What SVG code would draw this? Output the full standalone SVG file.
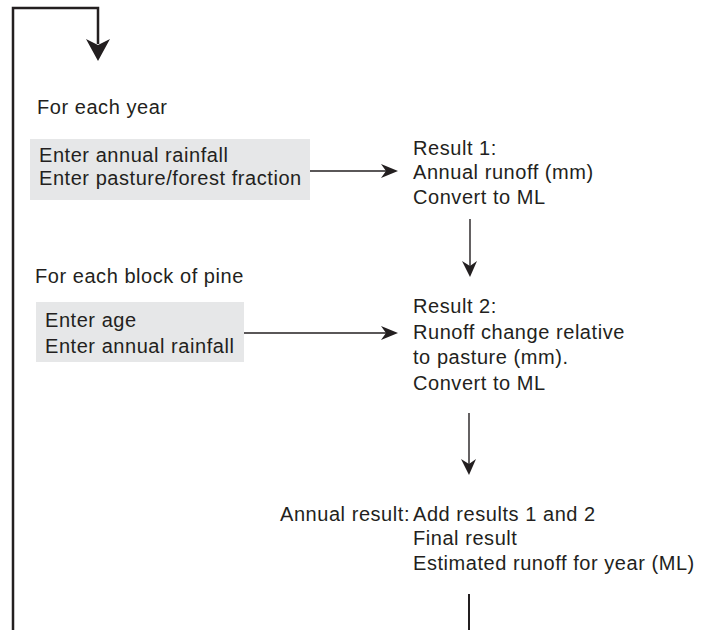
<svg xmlns="http://www.w3.org/2000/svg" width="713" height="630" viewBox="0 0 713 630">
<style>
text{font-family:"Liberation Sans",Arial,sans-serif;font-size:20px;letter-spacing:0.55px;fill:#231f20}
.box{fill:#e6e7e8}
.ln{stroke:#231f20;stroke-width:1.4;fill:none}
.thick{stroke:#231f20;stroke-width:2.5;fill:none}
.head{fill:#231f20}
</style>
<g id="connectors">
<path class="thick" d="M13,630 V8 H98 V44"/>
<path class="head" d="M98,61 L86,39 L98,45 L110,39 Z"/>
<path class="ln" d="M310,171 H388"/>
<path class="head" d="M398,171 L381,164 L386,171 L381,178 Z"/>
<path class="ln" d="M244,333 H388"/>
<path class="head" d="M398,333 L381,326 L386,333 L381,340 Z"/>
<path class="ln" d="M470,219 V266"/>
<path class="head" d="M470,277 L462,261 L470,266 L477,261 Z"/>
<path class="ln" d="M469,413 V464"/>
<path class="head" d="M469,475 L461,459 L469,464 L476,459 Z"/>
<path class="thick" d="M469,594 V630" style="stroke-width:2"/>
</g>
<g id="label-year"><text x="37" y="114">For each year</text></g>
<g id="input-year">
<rect class="box" x="30" y="139" width="280" height="61"/>
<text x="39" y="162">Enter annual rainfall</text>
<text x="39" y="185">Enter pasture/forest fraction</text>
</g>
<g id="result1">
<text x="413" y="155">Result 1:</text>
<text x="413" y="179">Annual runoff (mm)</text>
<text x="413" y="204">Convert to ML</text>
</g>
<g id="label-pine"><text x="35" y="283">For each block of pine</text></g>
<g id="input-pine">
<rect class="box" x="36" y="302" width="208" height="60"/>
<text x="45" y="327">Enter age</text>
<text x="45" y="353">Enter annual rainfall</text>
</g>
<g id="result2">
<text x="413" y="313">Result 2:</text>
<text x="413" y="339">Runoff change relative</text>
<text x="413" y="364">to pasture (mm).</text>
<text x="413" y="390">Convert to ML</text>
</g>
<g id="annual">
<text x="410" y="521" text-anchor="end">Annual result:</text>
<text x="413" y="521">Add results 1 and 2</text>
<text x="413" y="545">Final result</text>
<text x="413" y="570">Estimated runoff for year (ML)</text>
</g>
</svg>
